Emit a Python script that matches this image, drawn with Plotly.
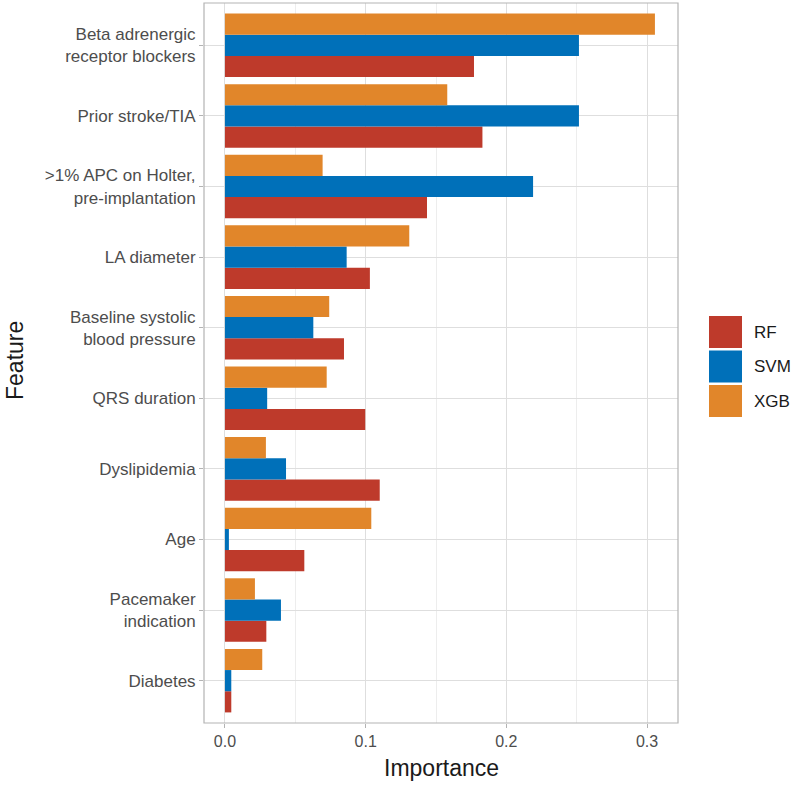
import plotly.graph_objects as go

# Feature importance per model, bottom to top
features = [
    "Diabetes",
    "Pacemaker<br>indication",
    "Age",
    "Dyslipidemia",
    "QRS duration",
    "Baseline systolic<br>blood pressure",
    "LA diameter",
    ">1% APC on Holter,<br>pre-implantation",
    "Prior stroke/TIA",
    "Beta adrenergic<br>receptor blockers",
]
rf = [0.0045, 0.0294, 0.0564, 0.110, 0.0997, 0.0846, 0.103, 0.1436, 0.183, 0.177]
svm = [0.0045, 0.0398, 0.0028, 0.0434, 0.030, 0.0628, 0.0865, 0.219, 0.2516, 0.2516]
xgb = [0.0265, 0.0213, 0.104, 0.0291, 0.0723, 0.0741, 0.131, 0.0694, 0.158, 0.3056]

models = ["RF", "SVM", "XGB"]
values = [rf, svm, xgb]
colors = {"RF": "#BE3A2B", "SVM": "#0070B9", "XGB": "#E1862A"}

x_ticks = [0.0, 0.1, 0.2, 0.3]
x_tick_text = ["0.0", "0.1", "0.2", "0.3"]

W, H = 797, 785
L, R, T, B = 204, 678, 3, 723  # panel edges in px


def px(x):
    return (x - L) / (R - L)


def py(y):
    return (B - y) / (B - T)


fig = go.Figure()
for name, vals in zip(models, values):
    fig.add_bar(
        x=vals,
        y=features,
        orientation="h",
        name=name,
        marker=dict(color=colors[name], line=dict(width=0)),
        showlegend=False,
    )

# hand-drawn legend with big ggplot-style keys
shapes = [
    dict(type="rect", xref="paper", yref="paper",
         x0=0, x1=1, y0=0, y1=1, line=dict(color="#B3B3B3", width=1.2),
         fillcolor="rgba(0,0,0,0)", layer="above")
]
annotations = []
key_top = 316
for i, name in enumerate(models):
    y0 = key_top + i * 34.5
    shapes.append(dict(type="rect", xref="paper", yref="paper",
                       x0=px(709), x1=px(742), y0=py(y0 + 32), y1=py(y0),
                       fillcolor=colors[name], line=dict(width=0)))
    annotations.append(dict(xref="paper", yref="paper", x=px(752), y=py(y0 + 16),
                            text=name, showarrow=False, xanchor="left", yanchor="middle",
                            font=dict(size=17, color="#1a1a1a")))

annotations.append(dict(xref="paper", yref="paper", x=px(441), y=py(768),
                        text="Importance", showarrow=False, xanchor="center",
                        yanchor="middle", font=dict(size=23, color="#1a1a1a")))
annotations.append(dict(xref="paper", yref="paper", x=px(15), y=py(361),
                        text="Feature", showarrow=False, textangle=-90,
                        xanchor="center", yanchor="middle",
                        font=dict(size=23, color="#1a1a1a")))

fig.update_layout(
    width=W,
    height=H,
    margin=dict(l=L, r=W - R, t=T, b=H - B),
    barmode="group",
    bargap=0.1,
    bargroupgap=0,
    plot_bgcolor="white",
    paper_bgcolor="white",
    font=dict(family="Liberation Sans, Arial, sans-serif", size=16, color="#4D4D4D"),
    shapes=shapes,
    annotations=annotations,
    xaxis=dict(
        range=[-0.0149, 0.322],
        tickvals=x_ticks,
        ticktext=x_tick_text,
        ticks="outside",
        ticklen=4,
        tickcolor="#B3B3B3",
        showgrid=True,
        gridcolor="#DEDEDE",
        gridwidth=1,
        minor=dict(dtick=0.05, showgrid=True, gridcolor="#EDEDED", gridwidth=0.6),
        zeroline=False,
        showline=False,
        tickfont=dict(size=16, color="#4D4D4D"),
        automargin=False,
    ),
    yaxis=dict(
        type="category",
        categoryorder="array",
        categoryarray=features,
        range=[-0.6, 9.6],
        ticks="outside",
        ticklen=4,
        tickcolor="#B3B3B3",
        showgrid=True,
        gridcolor="#DEDEDE",
        gridwidth=1,
        zeroline=False,
        showline=False,
        tickfont=dict(size=17, color="#4D4D4D"),
        automargin=False,
    ),
)

# drop the default page margin so the figure sits at the window's corner
fig.write_html(
    "out.html",
    config={"displayModeBar": False},
    post_script="document.body.style.margin='0px';",
)
